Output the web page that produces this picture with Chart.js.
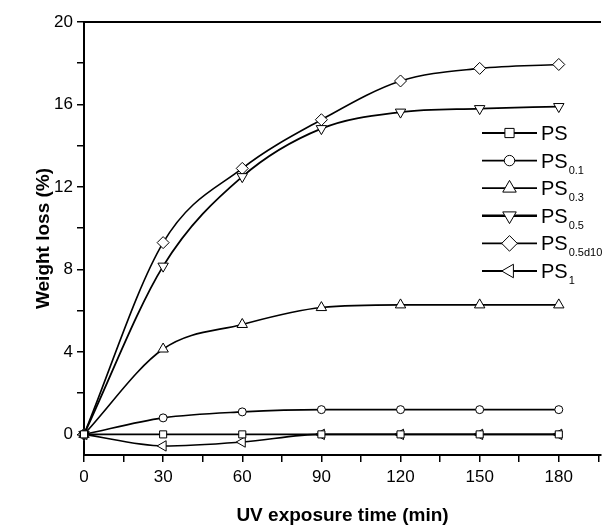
<!DOCTYPE html>
<html>
<head>
<meta charset="utf-8">
<script src="https://cdn.jsdelivr.net/npm/chart.js@4"></script>
<style>
  html, body { margin: 0; padding: 0; background: #fff; }
  #wrap { width: 608px; height: 527px; }
</style>
</head>
<body>
<div id="wrap"><canvas id="lossChart" width="608" height="527"></canvas></div>
<script>
// UV exposure time (min)
const times = [0, 30, 60, 90, 120, 150, 180];

// weight loss (%) per sample
const ps = [0, 0, 0, 0, 0, 0, 0];
const ps01 = [0, 0.8, 1.09, 1.2, 1.2, 1.2, 1.2];
const ps03 = [0, 4.14, 5.33, 6.15, 6.28, 6.28, 6.28];
const ps05 = [0, 8.16, 12.5, 14.83, 15.63, 15.8, 15.9];
const ps05d10 = [0, 9.3, 12.9, 15.26, 17.14, 17.75, 17.94];
const ps1 = [0, -0.56, -0.37, 0, 0, 0, 0];

const seriesNames = ["PS", "PS", "PS", "PS", "PS", "PS"];
const seriesSubs = ["", "0.1", "0.3", "0.5", "0.5d10", "1"];

const yTicks = [0, 4, 8, 12, 16, 20];
const xTicks = [0, 30, 60, 90, 120, 150, 180];

const FONT = "'Liberation Sans', Arial, sans-serif";

function makeSet(values, style, rotation, radius, width) {
  return {
    data: values.map((v, i) => ({ x: times[i], y: v })),
    borderColor: "#000",
    borderWidth: width,
    pointStyle: style,
    rotation: rotation,
    pointRadius: radius,
    pointBackgroundColor: "#fff",
    pointBorderColor: "#000",
    pointBorderWidth: 1,
    cubicInterpolationMode: "monotone",
    clip: false,
  };
}

const datasets = [
  makeSet(ps, "rect", 0, 5, 1.6),
  makeSet(ps01, "circle", 0, 4, 1.6),
  makeSet(ps03, "triangle", 0, 6, 1.6),
  makeSet(ps05, "triangle", 180, 6, 1.8),
  makeSet(ps05d10, "rectRot", 0, 6, 1.6),
  makeSet(ps1, "triangle", 270, 6, 1.6),
];

// top frame line + custom legend with subscripts
const framePlugin = {
  id: "frame",
  afterDraw(chart) {
    const ctx = chart.ctx;
    const area = chart.chartArea;
    ctx.save();
    ctx.strokeStyle = "#000";
    ctx.lineWidth = 2;
    ctx.beginPath();
    ctx.moveTo(area.left, area.top);
    ctx.lineTo(area.right, area.top);
    ctx.stroke();

    const x0 = 482, x1 = 537, rowTop = 133, rowGap = 27.6;
    chart.data.datasets.forEach((ds, i) => {
      const y = rowTop + i * rowGap;
      ctx.strokeStyle = "#000";
      ctx.lineWidth = i === 3 ? 2.6 : 1.8;
      ctx.beginPath();
      ctx.moveTo(x0, y);
      ctx.lineTo(x1, y);
      ctx.stroke();
      ctx.fillStyle = "#fff";
      ctx.lineWidth = 1;
      Chart.helpers.drawPoint(ctx, {
        pointStyle: ds.pointStyle,
        rotation: ds.rotation,
        radius: ds.pointRadius * 1.3,
        borderWidth: 1,
      }, (x0 + x1) / 2, y);
      ctx.fillStyle = "#000";
      ctx.textBaseline = "alphabetic";
      ctx.textAlign = "left";
      ctx.font = "20px " + FONT;
      ctx.fillText(seriesNames[i], 541, y + 7);
      const w = ctx.measureText(seriesNames[i]).width;
      if (seriesSubs[i]) {
        ctx.font = "11px " + FONT;
        ctx.fillText(seriesSubs[i], 541 + w + 1, y + 13);
      }
    });
    ctx.restore();
  },
};

new Chart(document.getElementById("lossChart"), {
  type: "line",
  data: { datasets: datasets },
  plugins: [framePlugin],
  options: {
    responsive: false,
    animation: false,
    layout: { padding: { top: 22, right: 0, left: 0, bottom: 0 } },
    plugins: { legend: { display: false }, tooltip: { enabled: false } },
    scales: {
      x: {
        type: "linear",
        min: 0,
        max: 196,
        afterFit: (s) => { s.height = 72; },
        afterBuildTicks: (s) => {
          const out = [];
          for (let v = 0; v <= 195; v += 15) out.push({ value: v });
          s.ticks = out;
        },
        border: { color: "#000", width: 2 },
        grid: { drawOnChartArea: false, color: "#000", lineWidth: 1.5, tickLength: 7 },
        ticks: {
          color: "#000",
          padding: 5,
          maxRotation: 0,
          autoSkip: false,
          font: { family: FONT, size: 17 },
          callback: (v) => (xTicks.includes(v) ? String(v) : ""),
        },
        title: {
          display: true,
          text: "UV exposure time (min)",
          color: "#000",
          font: { family: FONT, size: 19, weight: "bold" },
          padding: { top: 0, bottom: 0 },
        },
      },
      y: {
        min: -1,
        max: 20,
        afterFit: (s) => { s.width = 84; },
        afterBuildTicks: (s) => {
          const out = [];
          for (let v = 0; v <= 20; v += 2) out.push({ value: v });
          s.ticks = out;
        },
        border: { color: "#000", width: 2 },
        grid: { drawOnChartArea: false, color: "#000", lineWidth: 1.5, tickLength: 7 },
        ticks: {
          color: "#000",
          padding: 4,
          autoSkip: false,
          font: { family: FONT, size: 17 },
          callback: (v) => (yTicks.includes(v) ? String(v) : ""),
        },
        title: {
          display: true,
          text: "Weight loss (%)",
          color: "#000",
          font: { family: FONT, size: 19, weight: "bold" },
          padding: { top: 32, bottom: 0 },
        },
      },
    },
  },
});
</script>
</body>
</html>
